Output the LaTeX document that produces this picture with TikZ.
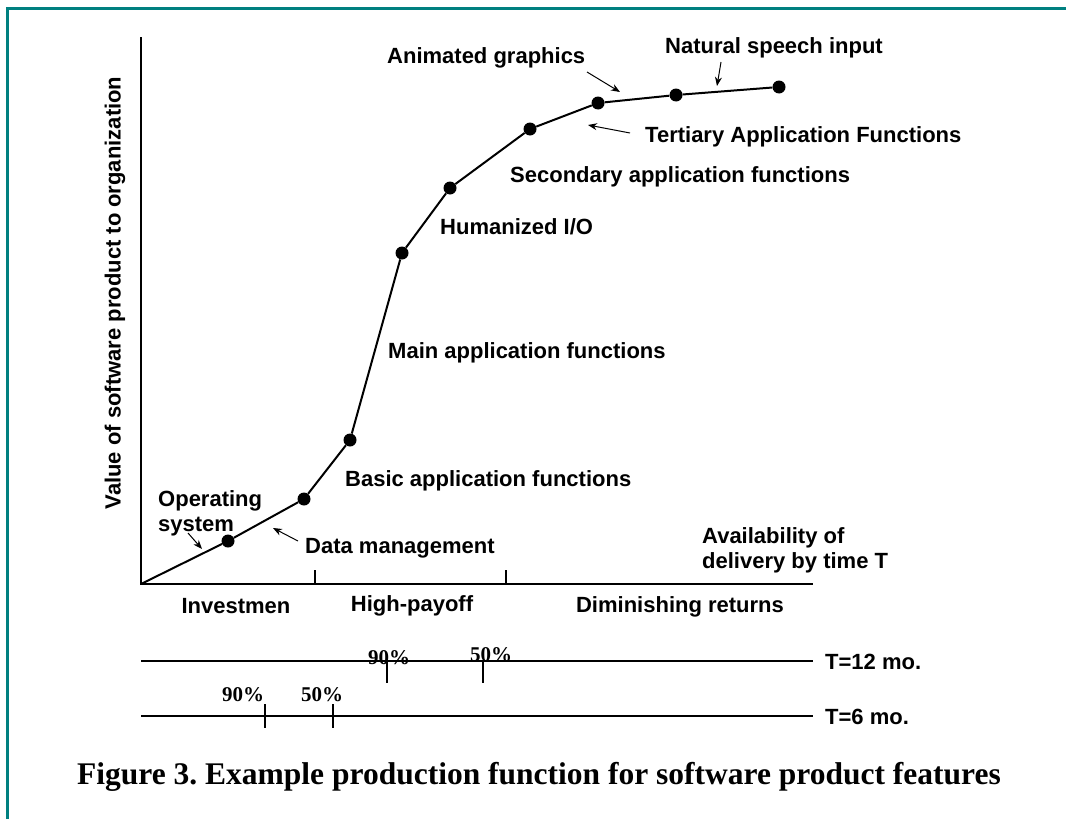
\documentclass[tikz,border=0pt]{standalone}
\usepackage{fontspec}
\setmainfont{Liberation Serif}
\setsansfont{Liberation Sans}
\usetikzlibrary{arrows.meta}
\definecolor{frameteal}{RGB}{0,128,128}

\begin{document}
\frenchspacing
\begin{tikzpicture}[x=1pt,y=-1pt,
  lbl/.style={font=\sffamily\bfseries\fontsize{22}{25}\selectfont, inner sep=0pt},
  pct/.style={font=\rmfamily\bfseries\fontsize{21}{23}\selectfont, inner sep=0pt},
  dot/.style={circle, fill=black, inner sep=0pt, minimum size=13pt},
  curve/.style={line width=2pt},
  axis/.style={line width=1.8pt},
  tickmark/.style={line width=1.6pt},
  pointer/.style={line width=1pt, -{Stealth[length=9pt,width=7pt]}}]

\useasboundingbox (0,0) rectangle (1066,819);
\fill[white] (0,0) rectangle (1066,819);

% frame on the top and left sides
\draw[frameteal, line width=3pt] (7,819) -- (7,8) -- (1066,8);

% axes
\coordinate (o) at (141,584);
\coordinate (ytop) at (141,37);
\coordinate (xend) at (813,584);
\draw[axis] (ytop) -- (o) -- (xend);
\coordinate (xt1) at (315,584);
\coordinate (xt2) at (506,584);
\draw[tickmark] (xt1) -- ++(0,-14);
\draw[tickmark] (xt2) -- ++(0,-14);

\node[lbl, rotate=90] (ylab) at (115,293) {Value of software product to organization};

% production curve
\node[dot] (p1) at (228,541) {};
\node[dot] (p2) at (304,499) {};
\node[dot] (p3) at (350,440) {};
\node[dot] (p4) at (402,253) {};
\node[dot] (p5) at (450,188) {};
\node[dot] (p6) at (530,129) {};
\node[dot] (p7) at (598,103) {};
\node[dot] (p8) at (676,95) {};
\node[dot] (p9) at (779,87) {};
\draw[curve] (o) -- (p1) -- (p2) -- (p3) -- (p4) -- (p5) -- (p6) -- (p7) -- (p8) -- (p9);

% feature labels
\node[lbl, anchor=west] (anim) at (387,58) {Animated graphics};
\node[lbl, anchor=west] (speech) at (665,48) {Natural speech input};
\node[lbl, anchor=west] (tert) at (645,137) {Tertiary Application Functions};
\node[lbl, anchor=west] (sec) at (510,177) {Secondary application functions};
\node[lbl, anchor=west] (hum) at (440,227) {Humanized I/O};
\node[lbl, anchor=west] (mainf) at (388,353) {Main application functions};
\node[lbl, anchor=west] (basic) at (345,481) {Basic application functions};
\node[lbl, anchor=west, align=left] (os) at (158,513) {Operating\\system};
\node[lbl, anchor=west] (data) at (305,548) {Data management};
\node[lbl, anchor=west, align=left] (avail) at (702,550) {Availability of\\delivery by time T};

% pointers from labels to the curve
\coordinate (animA) at (587,72);  \coordinate (animB) at (620,92);
\coordinate (speechA) at (721,62); \coordinate (speechB) at (717,86);
\coordinate (tertA) at (630,133); \coordinate (tertB) at (588,125);
\coordinate (dataA) at (298,541); \coordinate (dataB) at (273,528);
\coordinate (osA) at (188,533);   \coordinate (osB) at (202,549);
\draw[pointer] (animA) -- (animB);
\draw[pointer] (speechA) -- (speechB);
\draw[pointer] (tertA) -- (tertB);
\draw[pointer] (dataA) -- (dataB);
\draw[pointer] (osA) -- (osB);

% phases
\node[lbl] (inv) at (236,606) {Investmen};
\node[lbl] (high) at (412,606) {High-payoff};
\node[lbl] (dim) at (680,607) {Diminishing returns};

% delivery timelines
\coordinate (l12a) at (141,661); \coordinate (l12b) at (813,661);
\coordinate (l6a) at (141,716);  \coordinate (l6b) at (813,716);
\draw[axis] (l12a) -- (l12b);
\draw[axis] (l6a) -- (l6b);
\node[lbl, anchor=west] (t12) at (825,662) {T=12 mo.};
\node[lbl, anchor=west] (t6) at (825,717) {T=6 mo.};

\draw[tickmark] (387,661) -- (387,683);
\draw[tickmark] (483,661) -- (483,683);
\draw[tickmark] (265,704) -- (265,728);
\draw[tickmark] (333,704) -- (333,728);
\node[pct, anchor=base] (a90) at (389,664) {90\%};
\node[pct, anchor=base] (a50) at (491,661) {50\%};
\node[pct, anchor=base] (b90) at (243,701) {90\%};
\node[pct, anchor=base] (b50) at (322,701) {50\%};

% caption
\node[font=\rmfamily\bfseries\fontsize{31.5}{36}\selectfont, inner sep=0pt] (cap) at (539,777)
  {Figure 3. Example production function for software product features};
\end{tikzpicture}
\end{document}
